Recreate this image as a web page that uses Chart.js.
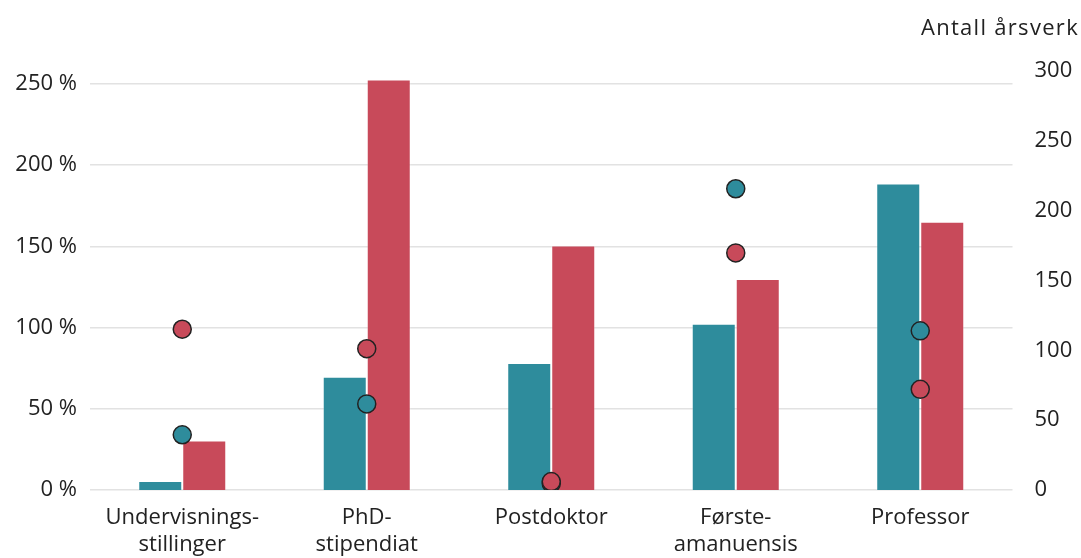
<!DOCTYPE html>
<html>
<head>
<meta charset="utf-8">
<script src="https://cdn.jsdelivr.net/npm/chart.js@4"></script>
<style>
  html, body { margin: 0; padding: 0; background: #fff; }
  #wrap { width: 1081px; height: 558px; position: relative; }
</style>
</head>
<body>
<div id="wrap"><canvas id="c"></canvas></div>
<script>
const categories = [["Undervisnings-", "stillinger"], ["PhD-", "stipendiat"], "Postdoktor", ["Første-", "amanuensis"], "Professor"];
// Bars: Antall årsverk (right axis)
const barsTeal = [6.5, 81, 91, 119, 219.5];
const barsRed = [35.5, 294, 175, 151, 192];
// Dots: percent (left axis)
const dotsTeal = [34, 53, 4, 185.5, 98];
const dotsRed = [99, 87, 5.2, 146, 62];
const leftTicks = [0, 50, 100, 150, 200, 250];
const rightTicks = [0, 50, 100, 150, 200, 250, 300];
const rightAxisTitle = 'Antall årsverk';

const TEAL = '#2e8c9c';
const RED = '#c84a5a';
const FONT = "'Open Sans', 'Noto Sans', sans-serif";
const TXT = '#222';

const titlePlugin = {
  id: 'rightTitle',
  afterDraw(chart) {
    const ctx = chart.ctx;
    ctx.save();
    ctx.font = "22px " + FONT;
    ctx.fillStyle = TXT;
    ctx.textAlign = 'right';
    ctx.textBaseline = 'middle';
    ctx.letterSpacing = '1.3px';
    ctx.fillText(rightAxisTitle, chart.width - 2, 29);
    ctx.restore();
  }
};

new Chart(document.getElementById('c'), {
  data: {
    labels: categories,
    datasets: [
      { type: 'line', label: 'Teal %', data: dotsTeal, yAxisID: 'y', showLine: false,
        pointRadius: 9, pointHoverRadius: 9, pointBackgroundColor: TEAL, pointBorderColor: '#222',
        pointBorderWidth: 1.5, order: 1 },
      { type: 'line', label: 'Red %', data: dotsRed, yAxisID: 'y', showLine: false,
        pointRadius: 9, pointHoverRadius: 9, pointBackgroundColor: RED, pointBorderColor: '#222',
        pointBorderWidth: 1.5, order: 0 },
      { type: 'bar', label: 'Teal årsverk', data: barsTeal, yAxisID: 'y1', backgroundColor: TEAL,
        borderColor: 'rgba(255,255,255,0.25)', borderWidth: 1, categoryPercentage: 0.477, barPercentage: 1, order: 2 },
      { type: 'bar', label: 'Red årsverk', data: barsRed, yAxisID: 'y1', backgroundColor: RED,
        borderColor: 'rgba(255,255,255,0.25)', borderWidth: 1, categoryPercentage: 0.477, barPercentage: 1, order: 2 }
    ]
  },
  plugins: [titlePlugin],
  options: {
    responsive: true,
    maintainAspectRatio: false,
    animation: false,
    layout: { padding: { left: 0, right: 0, top: 71, bottom: 0 } },
    plugins: {
      legend: { display: false },
      tooltip: { enabled: false },
      title: { display: false }
    },
    scales: {
      x: {
        offset: true,
        afterFit: s => { s.height = 68; },
        grid: { display: false, drawTicks: false },
        border: { display: false },
        ticks: { color: TXT, font: { family: FONT, size: 22, lineHeight: 1.23 }, padding: 14, maxRotation: 0, autoSkip: false }
      },
      y: {
        position: 'left', min: 0, max: 258,
        afterBuildTicks: s => { s.ticks = leftTicks.map(v => ({ value: v })); },
        afterFit: s => { s.width = 90; },
        grid: { color: '#e2e2e2', lineWidth: 1.5, drawTicks: false },
        border: { display: false },
        ticks: { color: TXT, font: { family: FONT, size: 22 }, padding: 13,
          callback: v => v + '\u00a0%' }
      },
      y1: {
        position: 'right', min: 0, max: 300,
        afterBuildTicks: s => { s.ticks = rightTicks.map(v => ({ value: v })); },
        afterFit: s => { s.width = 68.5; },
        grid: { display: false, drawTicks: false },
        border: { display: false },
        ticks: { color: TXT, font: { family: FONT, size: 22 }, padding: 22 }
      }
    }
  }
});
</script>
</body>
</html>
